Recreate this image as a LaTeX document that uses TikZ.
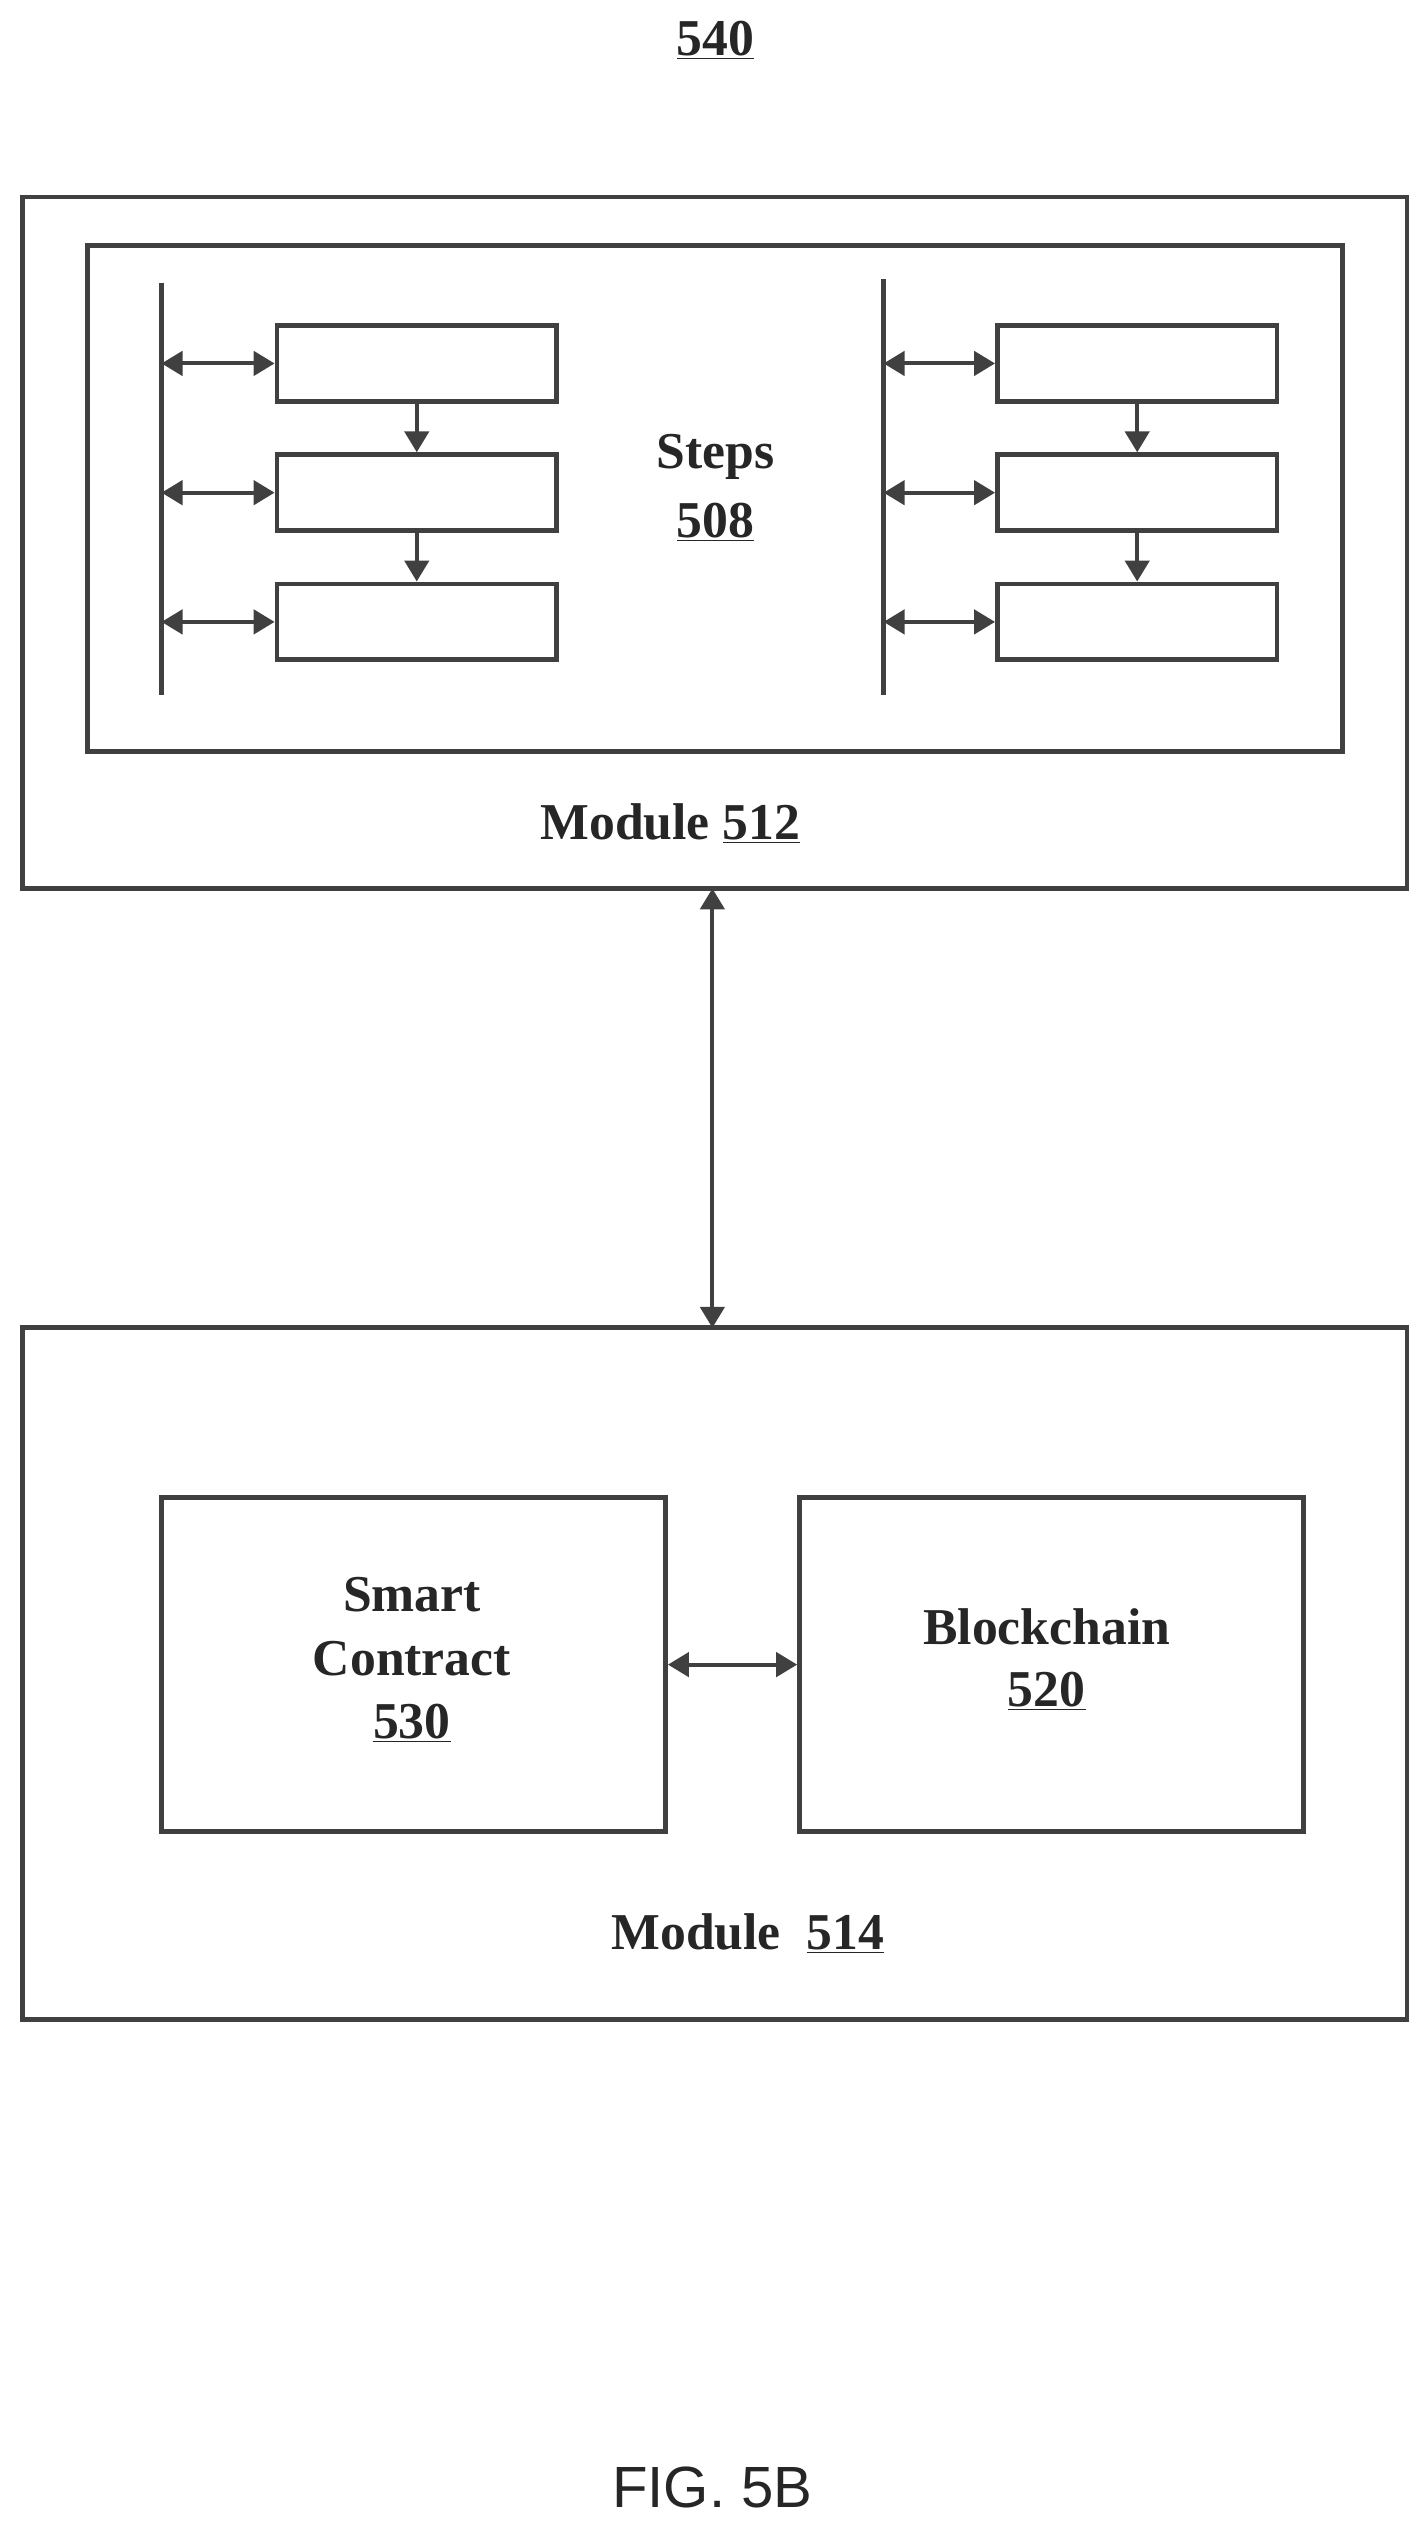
\documentclass[tikz,border=0pt]{standalone}
\usepackage{fontspec}
\setmainfont{Liberation Serif}
\newfontfamily\figfont{Liberation Sans}
\usetikzlibrary{arrows.meta}
\begin{document}
\begin{tikzpicture}[x=1pt,y=-1pt,
  box/.style={draw=black!75,line width=3pt},
  lbl/.style={font=\fontsize{32}{36}\selectfont\bfseries,text=black!85,inner sep=0},
  dbl/.style={draw=black!75,line width=2.5pt,{Triangle[length=13pt,width=15pt]}-{Triangle[length=13pt,width=15pt]}},
  one/.style={draw=black!75,line width=2.5pt,-{Triangle[length=13pt,width=15pt]}}]
\useasboundingbox (0,0) rectangle (884,1565);
\node[lbl] (t540) at (443,25) {\underline{540}};
\draw[box] (14,122) rectangle (871,550);
\coordinate (m512t) at (441,550);
\draw[box] (54,152) rectangle (831,465);
\node[lbl] (steps) at (443,283) {Steps};
\node[lbl] (s508) at (443,323) {\underline{508}};
\node[lbl] (m512) at (415,510) {Module \underline{512}};
\draw[box] (100,175) -- (100,430);
\draw[box] (547,173) -- (547,430);
\foreach \cx/\bx/\n in {258/100/L,704/547/R}{
  \foreach \y/\i in {225/1,305/2,385/3}{
    \node[box,minimum width=173pt,minimum height=47pt,inner sep=0] (\n\i) at (\cx,\y) {};
    \coordinate (\n b\i) at (\bx,\y);
    \draw[dbl] (\n b\i) -- (\n\i.west);
  }
  \draw[one] (\n1.south) -- (\n2.north);
  \draw[one] (\n2.south) -- (\n3.north);
}
\draw[box] (14,822) rectangle (871,1250);
\coordinate (m514t) at (441,822);
\draw[dbl] (m512t) -- (m514t);
\node[box,minimum width=312pt,minimum height=207pt,inner sep=0] (sc) at (256,1030.5) {};
\node[box,minimum width=312pt,minimum height=207pt,inner sep=0] (bc) at (651,1030.5) {};
\draw[dbl] (sc.east) -- (bc.west);
\node[lbl] at (255,987) {Smart};
\node[lbl] at (255,1027) {Contract};
\node[lbl] at (255,1067) {\underline{530}};
\node[lbl] at (648,1007) {Blockchain};
\node[lbl] at (648,1047) {\underline{520}};
\node[lbl] (m514) at (463,1197) {Module\ \ \underline{514}};
\node[font=\figfont\fontsize{36}{40}\selectfont,text=black!85] (fig) at (441,1540) {FIG. 5B};
\end{tikzpicture}
\end{document}
